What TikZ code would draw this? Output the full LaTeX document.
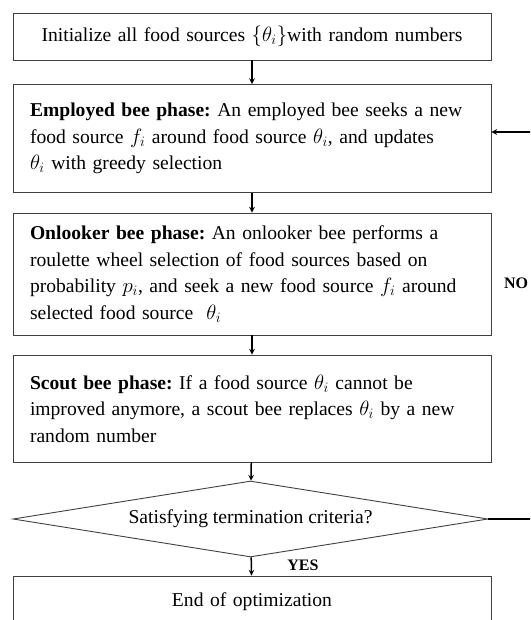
\documentclass[tikz,border=0pt]{standalone}
\usepackage{fontspec}
\setmainfont{Liberation Serif}
\usepackage{tikz}
\usetikzlibrary{shapes,arrows,positioning,calc}
\frenchspacing

\begin{document}
\begin{tikzpicture}[
    x=1pt, y=-1pt,
    every node/.style = {font=\fontsize{19.6}{26.5}\selectfont},
    phase/.style = {draw=black!75, line width=0.9pt, minimum width=478pt,
      text width=444pt, inner xsep=17pt, align=left},
    decide/.style = {draw=black!75, line width=0.9pt, diamond, aspect=6.25,
      minimum width=475pt, minimum height=76pt, inner sep=0pt},
    answer/.style = {font=\fontsize{16}{18}\selectfont\bfseries},
    flow/.style = {->, line width=1.5pt},
    >=stealth
  ]
  \useasboundingbox (0,0) rectangle (530,620);
  \clip (0,0) rectangle (530,620);

  % Schritte
  \node[phase, minimum height=47pt, align=center] (init) at (252,36.5)
    {\mbox{Initialize all food sources $\{\theta_i\}$with random numbers}};
  \node[phase, minimum height=108pt] (employed) at (252,138.5)
    {\mbox{\textbf{Employed bee phase:} An employed bee seeks a new}\\
     \mbox{food source $f_i$ around food source $\theta_i$, and updates}\\
     \mbox{$\theta_i$ with greedy selection}};
  \node[phase, minimum height=122pt] (onlooker) at (252,274)
    {\mbox{\textbf{Onlooker bee phase:} An onlooker bee performs a}\\
     \mbox{roulette wheel selection of food sources based on}\\
     \mbox{probability $p_i$, and seek a new food source $f_i$ around}\\
     \mbox{selected food source \ $\theta_i$}};
  \node[phase, minimum height=107pt] (scout) at (252,408.5)
    {\mbox{\textbf{Scout bee phase:} If a food source $\theta_i$ cannot be}\\
     \mbox{improved anymore, a scout bee replaces $\theta_i$ by a new}\\
     \mbox{random number}};
  \node[decide] (check) at (250.5,519) {Satisfying termination criteria?};
  \node[phase, minimum height=52pt, align=center] (finish) at (252,602)
    {End of optimization};

  % Pfeile
  \draw[flow] (init) -- (employed);
  \draw[flow] (employed) -- (onlooker);
  \draw[flow] (onlooker) -- (scout);
  \draw[flow] (scout) -- (check);
  \draw[flow] (check) -- (finish);
  \node[answer] (yes) at (303,565) {YES};

  % Schleife
  \coordinate (noA) at (540,519);
  \coordinate (noB) at (540,132);
  \draw[line width=1.5pt] (check.east) -- (noA) -- (noB);
  \draw[flow] (noB) -- (noB -| employed.east);
  \node[answer] (no) at (516,283) {NO};
\end{tikzpicture}
\end{document}
